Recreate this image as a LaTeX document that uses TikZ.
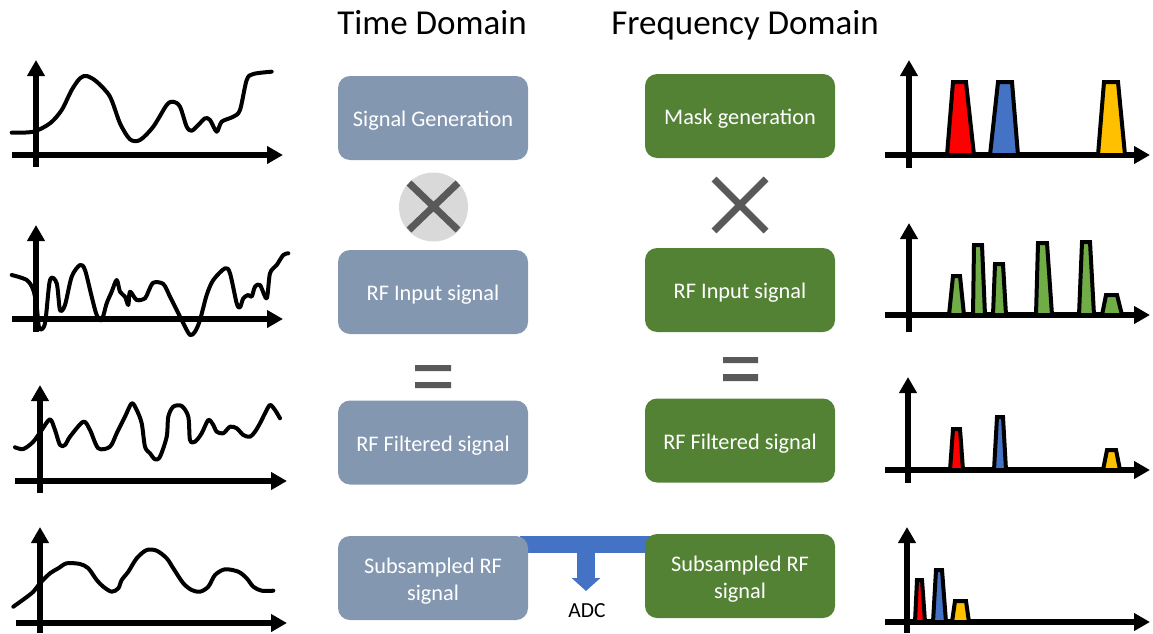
\documentclass[tikz,border=0pt]{standalone}
\usepackage{fontspec}
\setmainfont{Carlito}
\usetikzlibrary{arrows.meta}
\definecolor{tbox}{HTML}{8497B0}
\definecolor{fbox}{HTML}{548235}
\definecolor{adcblue}{HTML}{4472C4}
\definecolor{sred}{HTML}{FF0000}
\definecolor{sblue}{HTML}{4472C4}
\definecolor{syellow}{HTML}{FFC000}
\definecolor{sgreen}{HTML}{70AD47}
\definecolor{opgray}{HTML}{595959}
\definecolor{circgray}{HTML}{D9D9D9}
\newcommand{\bxt}[1]{\raisebox{-3pt}[\height][\depth]{#1}}
\newcommand{\bxtt}[2]{\raisebox{-3.5pt}[\height][\depth]{\begin{tabular}{@{}c@{}}#1\\#2\end{tabular}}}
\begin{document}
\begin{tikzpicture}[x=1pt,y=-1pt,
  box/.style={rounded corners=12pt, minimum width=190pt, minimum height=84pt, inner sep=0pt, text=white, align=center, font=\fontsize{22.3}{27}\selectfont},
  tbx/.style={box, fill=tbox},
  fbx/.style={box, fill=fbox},
  axis/.style={line width=6pt, -{Triangle[length=16pt,width=17pt]}},
  wave/.style={line width=4pt, line join=round, line cap=round},
  spec/.style={line width=4pt, line join=miter},
  op/.style={line width=7pt, opgray},
  title/.style={font=\fontsize{35}{40}\selectfont, anchor=base}
]
\useasboundingbox (0,0) rectangle (1153,634);

% titles
\node[title] (tdom) at (432,34.5) {Time Domain};
\node[title] (fdom) at (745,34.5) {Frequency Domain};

% ADC bar and arrow
\coordinate (barL) at (520,544.5);
\coordinate (barR) at (655,544.5);
\coordinate (adcS) at (586,544.5);
\coordinate (adcT) at (586,591);
\draw[line width=17pt, adcblue] (barL) -- (barR);
\draw[line width=18pt, adcblue, -{Triangle[length=13pt,width=28pt]}] (adcS) -- (adcT);
\node[font=\fontsize{21.5}{25}\selectfont] (adc) at (587,611) {ADC};

% boxes
\node[tbx] (t1) at (433,118) {\bxt{Signal Generation}};
\node[tbx] (t2) at (433,292) {\bxt{RF Input signal}};
\node[tbx] (t3) at (433,442.5) {\bxt{RF Filtered signal}};
\node[tbx] (t4) at (433,578) {\bxtt{Subsampled RF}{signal}};
\node[fbx] (f1) at (740,116) {\bxt{Mask generation}};
\node[fbx] (f2) at (740,290) {\bxt{RF Input signal}};
\node[fbx] (f3) at (740,440.5) {\bxt{RF Filtered signal}};
\node[fbx] (f4) at (740,576) {\bxtt{Subsampled RF}{signal}};

% operators
\fill[circgray] (433.5,207) circle (34.5);
\draw[op] (409,183) -- (458,230) (458,183) -- (409,230);
\draw[op] (714,179) -- (766,231) (766,179) -- (714,231);
\fill[opgray] (415,365) rectangle (451,371) (415,382) rectangle (451,388);
\fill[opgray] (723,357) rectangle (758,363) (723,374) rectangle (758,381);

% left axes
\draw[axis] (36,167) -- (36,60);  \draw[axis] (12,155) -- (283,155);
\draw[axis] (36,332) -- (36,225); \draw[axis] (12,319) -- (283,319);
\draw[axis] (40,493) -- (40,385); \draw[axis] (15,481) -- (287,481);
\draw[axis] (40,633) -- (40,527); \draw[axis] (16,623) -- (287,623);

% waveforms
\draw[wave] plot[smooth, tension=0.5] coordinates {(11.7,132.7) (33.3,131.7) (50,123.3) (61.7,110) (71.7,90) (80,78.3) (86.7,76) (96.7,81.7) (110,96.7) (120,123.3) (130,139.3) (140,140) (153.3,126.7) (166.7,105) (173.3,101.7) (180,106.7) (186.7,126.7) (191.7,130.7) (198.3,125) (205,118.3) (210,120) (216.7,131.7) (221.7,121.7) (233.3,116.7) (240,110) (246.7,80) (253.3,74) (271.7,71.7)};
\draw[wave] plot[smooth, tension=0.5] coordinates {(11.7,275) (26.7,280) (33.3,290) (36.7,306.7) (39.3,328.3) (45,323.3) (50,280) (56.7,283.3) (60,310) (65,305) (71.7,276.7) (80,265) (85,270) (91.7,296.7) (96.7,315) (101.7,320) (106.7,303.3) (111.7,291.7) (116.7,280) (120,291.7) (125,296.7) (128.3,305) (130,291.7) (136.7,300) (145,298.3) (148.3,291.7) (153.3,282.7) (163.3,284) (170,296.7) (176.7,310) (183.3,323.3) (190,335) (195,331.7) (200,320) (206.7,295) (213.3,280) (225,268.3) (230,273.3) (236.7,303.3) (240,307.3) (243.3,298.3) (248.3,295) (251.7,296.7) (255,286.7) (260,285) (266.7,298.3) (270,273.3) (276.7,265) (283.3,255) (288.3,253.3)};
\draw[wave] plot[smooth, tension=0.5] coordinates {(15,447.3) (23.3,449) (33.3,441.7) (41.7,430) (50,419.3) (55,430) (60,445) (65,445) (70,436.7) (83.3,421.7) (90,430) (98.3,448.3) (110,446.7) (116.7,433.3) (125,416.7) (131.7,403.3) (136.7,410) (141.7,423.3) (145,446.7) (150,453.3) (155,459.3) (160,456.7) (166.7,436.7) (168.3,416.7) (173.3,406.7) (181.7,406) (188.3,416.7) (190,440) (195,441.7) (201.7,433.3) (208.3,420) (213.3,425) (216.7,431.7) (223.3,433.3) (230,426.7) (236.7,428.3) (243.3,435) (250,436.7) (255,431.7) (260,423.3) (265,413.3) (270,405) (275,410) (280,418.3)};
\draw[wave] plot[smooth, tension=0.5] coordinates {(13.3,606.7) (25,598.3) (33.3,591.7) (40,583.3) (50,573.3) (58.3,568.3) (66.7,563.3) (80,564) (88.3,568.3) (96.7,580) (103.3,586.7) (111.7,591.7) (118.3,588.3) (121.7,580) (128.3,571.7) (136.7,558.3) (146.7,550) (156.7,550.7) (166.7,558.3) (173.3,568.3) (183.3,583.3) (191.7,590) (200,591.7) (208.3,586.7) (215,575) (225,569.3) (238.3,571.7) (246.7,578.3) (253.3,586.7) (261.7,590.7) (273.3,590.7)};

% right axes
\draw[axis] (909,168) -- (909,60);  \draw[axis] (885,155) -- (1150,155);
\draw[axis] (909,332) -- (909,223); \draw[axis] (885,315) -- (1150,315);
\draw[axis] (908,483) -- (908,377); \draw[axis] (885,470) -- (1150,470);
\draw[axis] (907,633) -- (907,527); \draw[axis] (885,622) -- (1150,622);

% spectra
\draw[spec, fill=sred] (947,155) -- (953,82) -- (966,82) -- (974,155) -- cycle;
\draw[spec, fill=sblue] (990,155) -- (998,82) -- (1012,82) -- (1018,155) -- cycle;
\draw[spec, fill=syellow] (1098,155) -- (1104,82) -- (1118,82) -- (1125,155) -- cycle;

\draw[spec, fill=sgreen] (949,315) -- (953,276) -- (960,276) -- (964,315) -- cycle;
\draw[spec, fill=sgreen] (973,315) -- (974,245) -- (982,245) -- (985,315) -- cycle;
\draw[spec, fill=sgreen] (993,315) -- (995,264) -- (1003,264) -- (1006,315) -- cycle;
\draw[spec, fill=sgreen] (1036,315) -- (1038,243) -- (1047,243) -- (1052,315) -- cycle;
\draw[spec, fill=sgreen] (1079,315) -- (1082,242) -- (1090,242) -- (1094,315) -- cycle;
\draw[spec, fill=sgreen] (1102,315) -- (1106,295) -- (1117,295) -- (1122,315) -- cycle;

\draw[spec, fill=sred] (950,470) -- (953,429) -- (960,429) -- (963,470) -- cycle;
\draw[spec, fill=sblue] (994,470) -- (997,417) -- (1003,417) -- (1006,470) -- cycle;
\draw[spec, fill=syellow] (1103,470) -- (1107,450) -- (1116,450) -- (1120,470) -- cycle;

\draw[spec, fill=sred] (915,622) -- (917,580) -- (922,580) -- (925,622) -- cycle;
\draw[spec, fill=sblue] (933,622) -- (936,570) -- (942,570) -- (946,622) -- cycle;
\draw[spec, fill=syellow] (952,622) -- (955,601) -- (966,601) -- (969,622) -- cycle;
\end{tikzpicture}
\end{document}
